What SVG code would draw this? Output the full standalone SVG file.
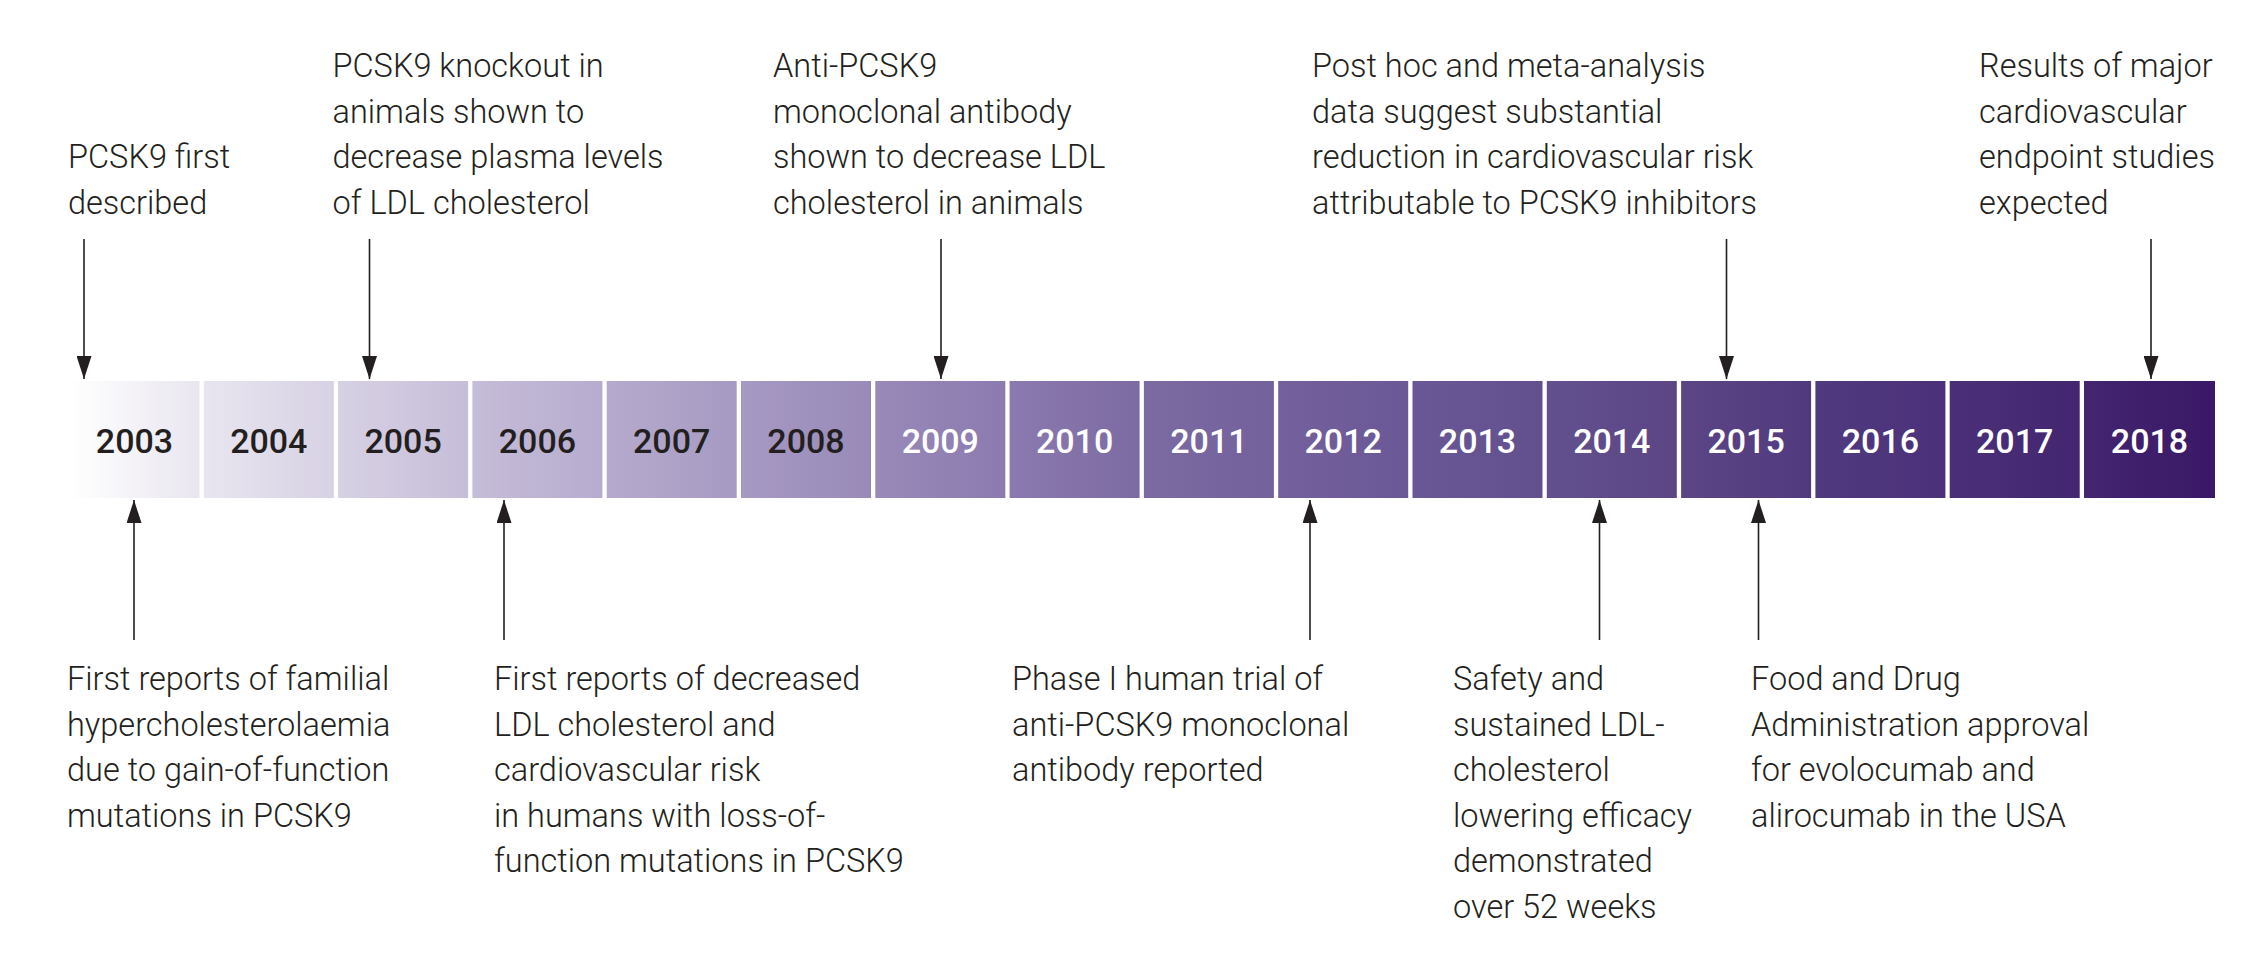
<svg xmlns="http://www.w3.org/2000/svg" width="2256" height="964" viewBox="0 0 2256 964">
<style>
.lbl{font-family:Roboto,"Liberation Sans",Arial,sans-serif;font-weight:300;font-size:32.5px;fill:#231f20;}
.yr{font-family:Roboto,"Liberation Sans",sans-serif;font-weight:500;font-size:34px;text-anchor:middle;}
.dk{fill:#231f20;}
.lt{fill:#ffffff;}
.box{fill:url(#bar);}
.arr{stroke:#231f20;stroke-width:1.6;fill:none;marker-end:url(#ah);}
</style>
<defs>
<linearGradient id="bar" gradientUnits="userSpaceOnUse" x1="69" y1="0" x2="2216" y2="0">
<stop offset="0" stop-color="#ffffff"/>
<stop offset="0.06" stop-color="#e9e6f0"/>
<stop offset="0.19" stop-color="#c5bcd8"/>
<stop offset="0.313" stop-color="#a699c2"/>
<stop offset="0.438" stop-color="#8b7aaf"/>
<stop offset="0.5" stop-color="#7c6aa2"/>
<stop offset="0.6257" stop-color="#6a5796"/>
<stop offset="0.6883" stop-color="#62508e"/>
<stop offset="0.7508" stop-color="#5c4585"/>
<stop offset="0.8134" stop-color="#503a7e"/>
<stop offset="0.876" stop-color="#4b3079"/>
<stop offset="0.9384" stop-color="#432570"/>
<stop offset="1" stop-color="#3a1867"/>
</linearGradient>
<marker id="ah" markerUnits="userSpaceOnUse" markerWidth="23" markerHeight="15" refX="23" refY="7.5" orient="auto" viewBox="0 0 23 15">
<path d="M0,0 L23,7.5 L0,15 Z" fill="#231f20"/>
</marker>
</defs>
<rect x="0" y="0" width="2256" height="964" fill="#ffffff"/>

<g id="years">
<g id="y2003"><rect class="box" x="69.5" y="381" width="130" height="117"/><text class="yr dk" x="134.5" y="453">2003</text></g>
<g id="y2004"><rect class="box" x="203.8" y="381" width="130" height="117"/><text class="yr dk" x="268.8" y="453">2004</text></g>
<g id="y2005"><rect class="box" x="338.1" y="381" width="130" height="117"/><text class="yr dk" x="403.1" y="453">2005</text></g>
<g id="y2006"><rect class="box" x="472.4" y="381" width="130" height="117"/><text class="yr dk" x="537.4" y="453">2006</text></g>
<g id="y2007"><rect class="box" x="606.7" y="381" width="130" height="117"/><text class="yr dk" x="671.7" y="453">2007</text></g>
<g id="y2008"><rect class="box" x="741" y="381" width="130" height="117"/><text class="yr dk" x="806" y="453">2008</text></g>
<g id="y2009"><rect class="box" x="875.3" y="381" width="130" height="117"/><text class="yr lt" x="940.3" y="453">2009</text></g>
<g id="y2010"><rect class="box" x="1009.6" y="381" width="130" height="117"/><text class="yr lt" x="1074.6" y="453">2010</text></g>
<g id="y2011"><rect class="box" x="1143.9" y="381" width="130" height="117"/><text class="yr lt" x="1208.9" y="453">2011</text></g>
<g id="y2012"><rect class="box" x="1278.2" y="381" width="130" height="117"/><text class="yr lt" x="1343.2" y="453">2012</text></g>
<g id="y2013"><rect class="box" x="1412.5" y="381" width="130" height="117"/><text class="yr lt" x="1477.5" y="453">2013</text></g>
<g id="y2014"><rect class="box" x="1546.8" y="381" width="130" height="117"/><text class="yr lt" x="1611.8" y="453">2014</text></g>
<g id="y2015"><rect class="box" x="1681.1" y="381" width="130" height="117"/><text class="yr lt" x="1746.1" y="453">2015</text></g>
<g id="y2016"><rect class="box" x="1815.4" y="381" width="130" height="117"/><text class="yr lt" x="1880.4" y="453">2016</text></g>
<g id="y2017"><rect class="box" x="1949.7" y="381" width="130" height="117"/><text class="yr lt" x="2014.7" y="453">2017</text></g>
<g id="y2018"><rect class="box" x="2084" y="381" width="131" height="117"/><text class="yr lt" x="2149.5" y="453">2018</text></g>
</g>

<g id="connectors">
<line class="arr" x1="84" y1="239" x2="84" y2="379"/>
<line class="arr" x1="369.5" y1="239" x2="369.5" y2="379"/>
<line class="arr" x1="941" y1="239" x2="941" y2="379"/>
<line class="arr" x1="1726.5" y1="239" x2="1726.5" y2="379"/>
<line class="arr" x1="2151" y1="239" x2="2151" y2="379"/>
<line class="arr" x1="134" y1="640" x2="134" y2="500"/>
<line class="arr" x1="504" y1="640" x2="504" y2="500"/>
<line class="arr" x1="1310" y1="640" x2="1310" y2="500"/>
<line class="arr" x1="1599.5" y1="640" x2="1599.5" y2="500"/>
<line class="arr" x1="1758.5" y1="640" x2="1758.5" y2="500"/>
</g>

<g id="ev-first-described">
<text class="lbl" x="68" y="168">PCSK9 first</text>
<text class="lbl" x="68" y="213.5">described</text>
</g>
<g id="ev-knockout">
<text class="lbl" x="332.5" y="77">PCSK9 knockout in</text>
<text class="lbl" x="332.5" y="122.5">animals shown to</text>
<text class="lbl" x="332.5" y="168">decrease plasma levels</text>
<text class="lbl" x="332.5" y="213.5">of LDL cholesterol</text>
</g>
<g id="ev-antibody-animals">
<text class="lbl" x="773" y="77">Anti-PCSK9</text>
<text class="lbl" x="773" y="122.5">monoclonal antibody</text>
<text class="lbl" x="773" y="168">shown to decrease LDL</text>
<text class="lbl" x="773" y="213.5">cholesterol in animals</text>
</g>
<g id="ev-post-hoc">
<text class="lbl" x="1312" y="77">Post hoc and meta-analysis</text>
<text class="lbl" x="1312" y="122.5">data suggest substantial</text>
<text class="lbl" x="1312" y="168">reduction in cardiovascular risk</text>
<text class="lbl" x="1312" y="213.5">attributable to PCSK9 inhibitors</text>
</g>
<g id="ev-results">
<text class="lbl" x="1979" y="77">Results of major</text>
<text class="lbl" x="1979" y="122.5">cardiovascular</text>
<text class="lbl" x="1979" y="168">endpoint studies</text>
<text class="lbl" x="1979" y="213.5">expected</text>
</g>

<g id="ev-familial">
<text class="lbl" x="67" y="690">First reports of familial</text>
<text class="lbl" x="67" y="735.5">hypercholesterolaemia</text>
<text class="lbl" x="67" y="781">due to gain-of-function</text>
<text class="lbl" x="67" y="826.5">mutations in PCSK9</text>
</g>
<g id="ev-loss-of-function">
<text class="lbl" x="494" y="690">First reports of decreased</text>
<text class="lbl" x="494" y="735.5">LDL cholesterol and</text>
<text class="lbl" x="494" y="781">cardiovascular risk</text>
<text class="lbl" x="494" y="826.5">in humans with loss-of-</text>
<text class="lbl" x="494" y="872">function mutations in PCSK9</text>
</g>
<g id="ev-phase1">
<text class="lbl" x="1012" y="690">Phase I human trial of</text>
<text class="lbl" x="1012" y="735.5">anti-PCSK9 monoclonal</text>
<text class="lbl" x="1012" y="781">antibody reported</text>
</g>
<g id="ev-safety">
<text class="lbl" x="1453" y="690">Safety and</text>
<text class="lbl" x="1453" y="735.5">sustained LDL-</text>
<text class="lbl" x="1453" y="781">cholesterol</text>
<text class="lbl" x="1453" y="826.5">lowering efficacy</text>
<text class="lbl" x="1453" y="872">demonstrated</text>
<text class="lbl" x="1453" y="917.5">over 52 weeks</text>
</g>
<g id="ev-fda">
<text class="lbl" x="1751" y="690">Food and Drug</text>
<text class="lbl" x="1751" y="735.5">Administration approval</text>
<text class="lbl" x="1751" y="781">for evolocumab and</text>
<text class="lbl" x="1751" y="826.5">alirocumab in the USA</text>
</g>
</svg>
